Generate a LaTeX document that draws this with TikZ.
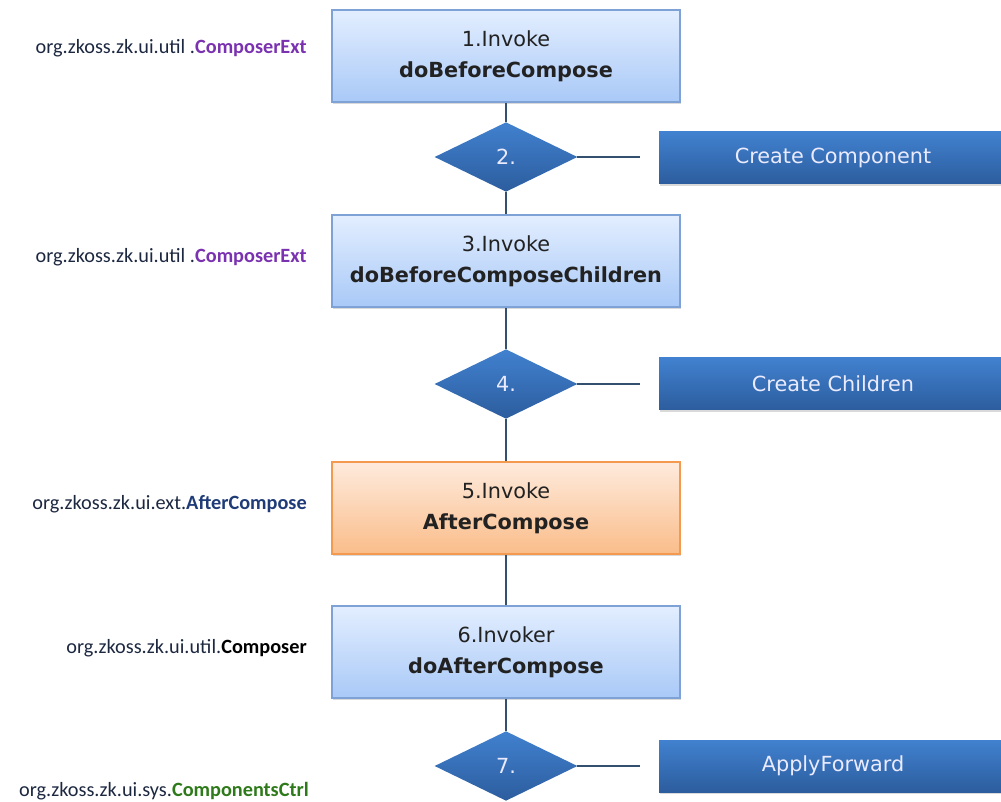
\documentclass[tikz,border=0pt]{standalone}
\usepackage{fontspec}
\setmainfont{DejaVu Sans}
\newfontfamily\pkgfont{Carlito}
\usetikzlibrary{shapes.geometric,shadows}

\definecolor{stepTop}{HTML}{E3EEFF}
\definecolor{stepBot}{HTML}{A9C9F7}
\definecolor{stepEdge}{HTML}{7EA2D6}
\definecolor{hookTop}{HTML}{FEEBDD}
\definecolor{hookBot}{HTML}{FABD8A}
\definecolor{hookEdge}{HTML}{F39A4F}
\definecolor{actTop}{HTML}{4181CF}
\definecolor{actBot}{HTML}{2C5D9E}
\definecolor{wire}{HTML}{34506F}
\definecolor{pkgText}{HTML}{1C2740}
\definecolor{extPurple}{HTML}{7A32B0}
\definecolor{extNavy}{HTML}{1F3C78}
\definecolor{ctrlGreen}{HTML}{2E7A1A}
\definecolor{boxText}{HTML}{222222}

\tikzset{
  softshadow/.style={drop shadow={opacity=0.3, shadow xshift=1pt, shadow yshift=-1.5pt}},
  stepbox/.style={rectangle, draw=stepEdge, line width=0.8pt,
    top color=stepTop, bottom color=stepBot, softshadow,
    minimum width=261pt, minimum height=69pt, inner sep=0pt,
    align=center, text=boxText, font=\fontsize{15.6}{23}\selectfont},
  hookbox/.style={stepbox, draw=hookEdge, top color=hookTop, bottom color=hookBot},
  decide/.style={diamond, top color=actTop, bottom color=actBot, draw=none,
    minimum width=107pt, minimum height=52pt, inner sep=0pt, outer sep=0pt,
    text=white!92!blue, font=\fontsize{15.6}{18}\selectfont},
  actbox/.style={rectangle, top color=actTop, bottom color=actBot, draw=none, softshadow,
    minimum width=261pt, minimum height=39pt, inner sep=0pt,
    text=white!92!blue, font=\fontsize{15.6}{18}\selectfont},
  pkg/.style={anchor=east, inner sep=0pt, text=pkgText, font=\pkgfont\fontsize{15.2}{18}\selectfont},
  wireline/.style={draw=wire, line width=1.1pt}
}

\begin{document}
\begin{tikzpicture}[x=0.75pt, y=-0.75pt]
\useasboundingbox (0,0) rectangle (1001,802);
\clip (0,0) rectangle (1001,802);

% main column of steps
\node[stepbox] (s1) at (506,56)  {1.Invoke\\\textbf{doBeforeCompose}};
\node[decide]  (d2) at (506,157) {2.};
\node[stepbox] (s3) at (506,261) {3.Invoke\\\textbf{doBeforeComposeChildren}};
\node[decide]  (d4) at (506,384) {4.};
\node[hookbox] (s5) at (506,508) {5.Invoke\\\textbf{AfterCompose}};
\node[stepbox] (s6) at (506,652) {6.Invoker\\\textbf{doAfterCompose}};
\node[decide]  (d7) at (506,766) {7.};

% side actions
\node[actbox] (a2) at (833,158) {Create Component};
\node[actbox] (a4) at (833,384) {Create Children};
\node[actbox] (a7) at (833,766) {ApplyForward};

\coordinate (e2) at (640,157);
\coordinate (e4) at (640,384);
\coordinate (e7) at (640,766);

% interface labels (class names in bold)
\node[pkg] (p1) at (307,48)  {org.zkoss.zk.ui.util .\textcolor{extPurple}{\bfseries ComposerExt}};
\node[pkg] (p3) at (307,257) {org.zkoss.zk.ui.util .\textcolor{extPurple}{\bfseries ComposerExt}};
\node[pkg] (p5) at (307,504) {org.zkoss.zk.ui.ext.\textcolor{extNavy}{\bfseries AfterCompose}};
\node[pkg] (p6) at (307,648) {org.zkoss.zk.ui.util.\textcolor{black}{\bfseries Composer}};
\node[pkg] (p7) at (309,791) {org.zkoss.zk.ui.sys.\textcolor{ctrlGreen}{\bfseries ComponentsCtrl}};

% connectors
\draw[wireline] (s1.south) -- (d2.north);
\draw[wireline] (d2.south) -- (s3.north);
\draw[wireline] (s3.south) -- (d4.north);
\draw[wireline] (d4.south) -- (s5.north);
\draw[wireline] (s5.south) -- (s6.north);
\draw[wireline] (s6.south) -- (d7.north);
\draw[wireline] (d2.east) -- (e2);
\draw[wireline] (d4.east) -- (e4);
\draw[wireline] (d7.east) -- (e7);
\end{tikzpicture}
\end{document}
